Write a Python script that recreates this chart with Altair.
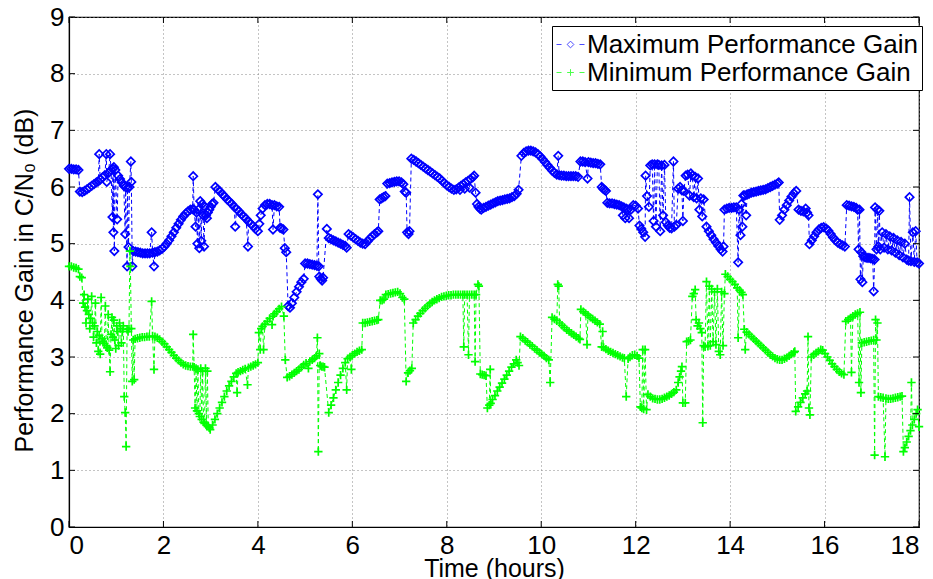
import altair as alt
import pandas as pd

# ---- data (time in hours, gain in dB) ----
max_points = [
(0.00,6.32),(0.05,6.32),(0.10,6.31),(0.15,6.31),(0.20,6.30),(0.23,5.92),(0.28,5.91),(0.33,5.93),(0.38,5.96),(0.43,5.99),
(0.48,6.02),(0.53,6.05),(0.58,6.08),(0.62,6.10),(0.64,6.58),(0.66,6.13),(0.71,6.17),(0.76,6.21),(0.79,6.58),(0.80,6.09),
(0.84,6.25),(0.87,6.58),(0.89,6.30),(0.92,5.47),(0.93,6.32),(0.94,5.20),(0.95,6.35),(0.96,4.87),(0.98,6.30),(1.02,5.43),
(1.04,6.20),(1.08,6.14),(1.12,6.08),(1.16,6.02),(1.19,5.17),(1.20,6.00),(1.23,4.60),(1.24,5.98),(1.26,4.94),(1.28,6.00),
(1.31,6.45),(1.32,6.09),(1.34,4.60),(1.36,4.87),(1.41,4.86),(1.46,4.85),(1.51,4.84),(1.56,4.83),(1.61,4.83),(1.66,4.83),
(1.71,4.83),(1.75,5.20),(1.77,4.84),(1.80,4.60),(1.82,4.85),(1.87,4.86),(1.92,4.88),(1.97,4.91),(2.02,4.95),(2.07,5.00),
(2.12,5.06),(2.17,5.13),(2.22,5.20),(2.27,5.28),(2.32,5.35),(2.37,5.42),(2.42,5.48),(2.47,5.53),(2.52,5.57),(2.57,5.60),
(2.62,5.61),(2.63,6.19),(2.65,5.60),(2.68,5.30),(2.70,5.55),(2.72,5.00),(2.74,5.60),(2.76,4.92),(2.78,5.75),(2.80,5.05),
(2.82,5.70),(2.84,5.50),(2.86,4.95),(2.88,5.65),(2.90,5.50),(2.92,5.45),(2.94,5.55),(2.97,5.60),(3.00,5.65),(3.03,5.70),
(3.06,5.72),(3.10,6.00),(3.15,5.96),(3.20,5.92),(3.25,5.87),(3.30,5.83),(3.35,5.78),(3.40,5.74),(3.45,5.70),(3.50,5.65),
(3.52,5.30),(3.55,5.61),(3.60,5.57),(3.65,5.52),(3.70,5.48),(3.75,5.44),(3.79,4.95),(3.80,5.39),(3.85,5.35),(3.90,5.31),
(3.95,5.26),(4.00,5.22),(4.03,5.35),(4.06,5.50),(4.10,5.62),(4.15,5.68),(4.20,5.70),(4.25,5.70),(4.30,5.68),(4.32,5.25),
(4.35,5.68),(4.40,5.66),(4.45,5.65),(4.47,5.28),(4.50,5.27),(4.54,5.25),(4.57,4.92),(4.60,4.85),(4.64,3.90),(4.68,3.87),
(4.72,3.95),(4.77,4.05),(4.82,4.15),(4.87,4.24),(4.92,4.32),(4.97,4.38),(5.00,4.65),(5.05,4.65),(5.10,4.64),(5.15,4.63),
(5.20,4.62),(5.25,4.61),(5.27,5.87),(5.29,4.60),(5.30,4.42),(5.33,4.38),(5.36,4.35),(5.38,4.40),(5.46,5.26),(5.50,5.10),
(5.55,5.08),(5.60,5.06),(5.65,5.04),(5.70,5.02),(5.75,5.00),(5.80,4.98),(5.85,4.96),(5.88,4.93),(5.92,5.17),(5.97,5.14),
(6.02,5.11),(6.07,5.08),(6.12,5.05),(6.17,5.02),(6.22,5.00),(6.27,4.99),(6.32,5.04),(6.37,5.09),(6.42,5.13),(6.47,5.17),
(6.52,5.20),(6.55,5.22),(6.58,5.78),(6.62,5.80),(6.66,5.82),(6.70,5.84),(6.74,6.06),(6.79,6.07),(6.84,6.08),(6.89,6.09),
(6.94,6.10),(6.99,6.10),(7.04,6.08),(7.08,6.05),(7.11,5.92),(7.14,5.90),(7.16,5.20),(7.19,5.17),(7.21,5.22),(7.25,6.50),
(7.30,6.48),(7.35,6.45),(7.40,6.42),(7.45,6.39),(7.50,6.36),(7.55,6.33),(7.60,6.30),(7.65,6.27),(7.70,6.24),(7.75,6.21),
(7.80,6.18),(7.85,6.15),(7.90,6.11),(7.95,6.07),(8.00,6.03),(8.05,6.00),(8.10,5.97),(8.15,5.95),(8.20,5.96),(8.25,5.99),
(8.28,5.95),(8.30,6.02),(8.35,6.05),(8.38,5.97),(8.40,6.08),(8.45,6.11),(8.48,5.99),(8.50,6.14),(8.55,6.17),(8.58,6.20),
(8.61,5.90),(8.64,5.70),(8.67,5.65),(8.70,5.62),(8.73,5.60),(8.78,5.63),(8.83,5.65),(8.88,5.67),(8.93,5.69),(8.98,5.71),
(9.03,5.73),(9.08,5.75),(9.13,5.76),(9.18,5.77),(9.23,5.78),(9.28,5.79),(9.33,5.80),(9.38,5.82),(9.43,5.84),(9.48,5.88),
(9.52,5.95),(9.58,6.55),(9.63,6.60),(9.68,6.63),(9.73,6.64),(9.78,6.64),(9.83,6.63),(9.88,6.61),(9.93,6.58),(9.98,6.54),
(10.03,6.49),(10.08,6.44),(10.13,6.39),(10.18,6.34),(10.23,6.29),(10.28,6.25),(10.33,6.22),(10.36,6.55),(10.38,6.21),(10.43,6.20),
(10.48,6.20),(10.53,6.19),(10.58,6.19),(10.63,6.19),(10.68,6.19),(10.73,6.19),(10.78,6.18),(10.83,6.45),(10.88,6.45),(10.93,6.44),
(10.98,6.15),(11.00,6.44),(11.05,6.43),(11.10,6.42),(11.15,6.42),(11.20,6.41),(11.25,6.40),(11.28,6.00),(11.31,5.97),(11.34,5.95),
(11.37,5.93),(11.40,5.72),(11.45,5.71),(11.50,5.71),(11.55,5.70),(11.60,5.69),(11.65,5.68),(11.70,5.66),(11.73,5.50),(11.75,5.64),
(11.78,5.45),(11.80,5.62),(11.83,5.60),(11.86,5.45),(11.90,5.60),(11.95,5.68),(12.00,5.67),(12.05,5.62),(12.08,5.32),(12.12,5.26),
(12.16,5.20),(12.20,5.12),(12.21,6.20),(12.24,5.84),(12.28,5.65),(12.31,6.38),(12.35,6.40),(12.38,5.40),(12.40,6.40),(12.43,5.30),
(12.46,6.40),(12.49,6.39),(12.52,5.22),(12.55,6.38),(12.58,5.50),(12.61,6.39),(12.64,5.38),(12.68,5.32),(12.72,5.28),(12.76,5.27),
(12.80,6.45),(12.82,5.30),(12.86,5.33),(12.90,5.97),(12.94,6.00),(12.98,5.94),(13.00,5.40),(13.02,5.93),(13.06,6.20),(13.10,6.22),
(13.14,5.85),(13.17,6.24),(13.20,6.20),(13.23,5.82),(13.26,6.18),(13.29,5.80),(13.32,6.15),(13.35,5.60),(13.38,5.80),(13.41,5.48),
(13.44,5.78),(13.50,5.30),(13.55,5.22),(13.60,5.15),(13.65,5.08),(13.70,5.02),(13.75,4.96),(13.80,4.90),(13.84,4.86),(13.86,4.95),
(13.88,5.60),(13.93,5.62),(13.98,5.63),(14.03,5.63),(14.08,5.64),(14.13,5.64),(14.17,4.67),(14.19,5.60),(14.22,5.15),(14.24,5.70),
(14.26,5.30),(14.28,5.85),(14.31,5.85),(14.34,5.50),(14.36,5.87),(14.40,5.88),(14.45,5.90),(14.50,5.91),(14.55,5.92),(14.60,5.93),
(14.65,5.94),(14.70,5.95),(14.75,5.96),(14.80,5.98),(14.85,6.00),(14.90,6.02),(14.95,6.04),(15.00,6.06),(15.03,6.08),(15.05,5.42),
(15.10,5.50),(15.15,5.60),(15.20,5.68),(15.25,5.76),(15.30,5.83),(15.35,5.89),(15.40,5.93),(15.45,5.60),(15.50,5.58),(15.55,5.57),
(15.60,5.62),(15.63,5.55),(15.66,5.50),(15.68,4.99),(15.73,5.06),(15.78,5.13),(15.83,5.20),(15.88,5.25),(15.93,5.28),(15.98,5.29),
(16.03,5.27),(16.08,5.23),(16.13,5.17),(16.18,5.11),(16.23,5.06),(16.28,5.02),(16.33,4.99),(16.38,4.97),(16.43,4.95),(16.47,5.68),
(16.52,5.67),(16.57,5.66),(16.62,5.65),(16.67,5.63),(16.70,5.60),(16.72,4.90),(16.74,5.60),(16.76,4.37),(16.78,4.85),(16.80,4.32),
(16.82,4.78),(16.86,4.76),(16.90,4.75),(16.94,4.75),(16.98,4.74),(17.02,4.73),(17.04,4.16),(17.06,4.72),(17.07,5.64),(17.10,4.90),
(17.12,5.60),(17.14,4.95),(17.16,5.58),(17.18,4.90),(17.22,5.20),(17.26,4.93),(17.30,5.17),(17.34,4.90),(17.38,5.13),(17.42,4.88),
(17.46,5.10),(17.50,4.84),(17.54,5.06),(17.58,4.80),(17.62,5.03),(17.66,4.76),(17.70,5.00),(17.74,4.72),(17.78,4.70),(17.80,5.82),
(17.83,4.69),(17.87,5.20),(17.90,4.68),(17.93,5.22),(17.96,4.67),(18.00,4.65),
]

min_points = [
(0.00,4.60),(0.05,4.60),(0.10,4.58),(0.15,4.57),(0.20,4.55),(0.23,4.42),(0.27,4.40),(0.30,3.95),(0.32,4.10),(0.34,3.88),
(0.36,3.60),(0.38,3.82),(0.40,4.02),(0.42,3.75),(0.44,3.50),(0.46,3.68),(0.48,4.07),(0.50,3.60),(0.52,3.35),(0.54,3.55),
(0.56,3.95),(0.58,3.25),(0.60,3.45),(0.62,3.10),(0.64,3.38),(0.66,3.05),(0.68,4.05),(0.70,3.32),(0.72,3.28),(0.75,3.24),
(0.77,3.90),(0.79,3.20),(0.81,3.16),(0.83,3.75),(0.85,3.12),(0.87,2.74),(0.89,3.40),(0.91,3.70),(0.93,3.35),(0.95,3.65),
(0.97,3.30),(0.99,3.15),(1.01,3.55),(1.03,3.45),(1.05,3.20),(1.07,3.60),(1.09,3.50),(1.11,3.25),(1.13,3.45),(1.15,3.55),
(1.17,2.30),(1.19,2.02),(1.21,1.42),(1.23,3.49),(1.25,3.45),(1.27,3.50),(1.29,4.87),(1.30,4.60),(1.32,3.50),(1.34,2.57),
(1.36,3.30),(1.38,2.60),(1.40,3.32),(1.45,3.33),(1.50,3.34),(1.55,3.35),(1.60,3.35),(1.65,3.36),(1.70,3.36),(1.75,3.98),
(1.77,3.37),(1.80,2.78),(1.82,3.36),(1.87,3.34),(1.92,3.31),(1.97,3.27),(2.02,3.23),(2.07,3.18),(2.12,3.13),(2.17,3.08),
(2.22,3.03),(2.27,2.98),(2.32,2.94),(2.37,2.90),(2.42,2.87),(2.47,2.85),(2.52,2.84),(2.57,2.83),(2.62,2.83),(2.63,3.40),
(2.65,2.82),(2.67,2.10),(2.69,2.80),(2.71,2.05),(2.73,2.78),(2.75,2.00),(2.77,1.95),(2.79,2.80),(2.81,1.90),(2.83,2.75),
(2.85,1.85),(2.87,1.83),(2.89,2.80),(2.91,1.80),(2.93,2.75),(2.95,1.78),(2.97,1.75),(2.99,1.72),(3.04,1.80),(3.09,1.90),
(3.14,2.00),(3.19,2.10),(3.24,2.20),(3.29,2.30),(3.34,2.40),(3.39,2.49),(3.44,2.57),(3.49,2.65),(3.54,2.71),(3.56,2.37),
(3.58,2.73),(3.63,2.75),(3.68,2.77),(3.73,2.79),(3.78,2.51),(3.80,2.81),(3.85,2.83),(3.90,2.85),(3.95,2.87),(4.00,2.90),
(4.02,3.43),(4.05,3.13),(4.07,3.50),(4.10,3.54),(4.12,3.13),(4.15,3.58),(4.20,3.63),(4.25,3.68),(4.30,3.57),(4.32,3.72),
(4.35,3.76),(4.40,3.80),(4.45,3.85),(4.50,3.89),(4.55,3.72),(4.58,2.95),(4.62,2.64),(4.67,2.66),(4.72,2.69),(4.77,2.72),
(4.82,2.75),(4.87,2.78),(4.92,2.82),(4.97,2.86),(5.02,2.89),(5.07,2.80),(5.10,2.92),(5.15,2.95),(5.20,2.98),(5.24,3.02),
(5.26,3.34),(5.28,1.33),(5.30,3.06),(5.32,2.85),(5.35,2.83),(5.38,2.83),(5.41,2.82),(5.50,2.02),(5.55,2.15),(5.60,2.28),
(5.65,2.42),(5.70,2.55),(5.75,2.68),(5.80,2.80),(5.85,2.90),(5.88,2.42),(5.90,2.97),(5.95,3.00),(5.98,2.78),(6.00,3.03),
(6.05,3.06),(6.10,3.09),(6.15,3.11),(6.20,3.13),(6.22,3.60),(6.27,3.60),(6.32,3.61),(6.37,3.62),(6.42,3.63),(6.47,3.64),
(6.52,3.65),(6.55,3.66),(6.59,4.00),(6.63,4.00),(6.67,4.02),(6.71,4.10),(6.76,4.11),(6.81,4.12),(6.86,4.13),(6.91,4.14),
(6.96,4.15),(7.01,4.12),(7.06,4.05),(7.10,4.02),(7.14,2.57),(7.18,2.72),(7.22,2.76),(7.26,2.80),(7.29,3.60),(7.34,3.66),
(7.39,3.72),(7.44,3.77),(7.49,3.82),(7.54,3.86),(7.59,3.90),(7.64,3.94),(7.69,3.97),(7.74,4.00),(7.79,4.02),(7.84,4.04),
(7.89,4.06),(7.94,4.07),(7.99,4.08),(8.04,4.09),(8.09,4.09),(8.14,4.10),(8.19,4.10),(8.24,4.10),(8.29,4.10),(8.34,4.10),
(8.36,3.18),(8.38,4.10),(8.43,4.10),(8.46,3.04),(8.48,4.10),(8.53,4.10),(8.58,4.10),(8.60,2.92),(8.62,4.10),(8.66,4.28),
(8.68,4.25),(8.71,2.70),(8.75,2.69),(8.79,2.68),(8.83,2.67),(8.86,2.10),(8.90,2.15),(8.92,2.78),(8.93,2.18),(8.97,2.25),
(9.02,2.32),(9.07,2.40),(9.12,2.47),(9.17,2.54),(9.22,2.61),(9.27,2.68),(9.32,2.75),(9.37,2.82),(9.42,2.88),(9.47,2.95),
(9.50,2.90),(9.53,2.85),(9.56,3.36),(9.61,3.33),(9.66,3.29),(9.71,3.26),(9.76,3.22),(9.81,3.19),(9.86,3.15),(9.91,3.12),
(9.96,3.08),(10.01,3.05),(10.06,3.02),(10.11,2.98),(10.16,2.95),(10.19,2.55),(10.23,3.70),(10.28,3.67),(10.33,3.64),(10.35,4.28),
(10.37,4.25),(10.39,3.60),(10.44,3.56),(10.49,3.52),(10.54,3.48),(10.59,3.45),(10.64,3.42),(10.69,3.39),(10.74,3.36),(10.79,3.33),
(10.82,3.31),(10.84,3.84),(10.89,3.80),(10.94,3.77),(10.97,3.22),(10.99,3.74),(11.04,3.70),(11.09,3.67),(11.14,3.64),(11.19,3.61),
(11.24,3.58),(11.28,3.18),(11.30,3.45),(11.32,3.17),(11.37,3.14),(11.42,3.11),(11.47,3.09),(11.52,3.07),(11.57,3.05),(11.62,3.03),
(11.67,3.01),(11.72,2.99),(11.76,2.98),(11.80,2.30),(11.84,2.97),(11.88,3.00),(11.93,3.03),(11.98,3.04),(12.03,3.02),(12.07,2.98),
(12.10,2.12),(12.13,2.10),(12.15,3.13),(12.17,2.08),(12.20,3.13),(12.23,2.07),(12.26,2.34),(12.31,2.30),(12.36,2.27),(12.41,2.26),
(12.46,2.25),(12.51,2.25),(12.56,2.26),(12.61,2.28),(12.66,2.30),(12.71,2.32),(12.76,2.35),(12.81,2.38),(12.86,2.42),(12.90,2.55),
(12.93,2.65),(12.96,2.75),(12.98,2.83),(13.00,2.19),(13.05,2.19),(13.08,3.27),(13.12,3.28),(13.16,3.30),(13.20,4.07),(13.23,4.12),
(13.26,4.19),(13.28,3.66),(13.31,3.55),(13.34,3.60),(13.37,3.50),(13.40,3.43),(13.42,1.84),(13.44,3.20),(13.47,3.18),(13.50,4.33),
(13.53,3.19),(13.56,4.25),(13.58,3.20),(13.61,4.20),(13.64,3.27),(13.67,4.15),(13.70,3.22),(13.73,4.20),(13.76,3.10),(13.79,3.04),
(13.82,4.15),(13.85,3.20),(13.88,4.12),(13.90,4.46),(13.95,4.42),(14.00,4.37),(14.05,4.33),(14.10,4.28),(14.15,4.22),(14.17,3.34),
(14.20,4.18),(14.24,4.14),(14.27,4.10),(14.30,3.49),(14.32,3.13),(14.35,3.44),(14.40,3.40),(14.45,3.36),(14.50,3.32),(14.55,3.28),
(14.60,3.24),(14.65,3.20),(14.70,3.16),(14.75,3.12),(14.80,3.08),(14.85,3.04),(14.90,3.01),(14.95,2.98),(15.00,2.96),(15.05,2.95),
(15.10,2.95),(15.15,2.97),(15.20,2.99),(15.25,3.02),(15.30,3.05),(15.35,3.08),(15.37,3.10),(15.39,2.04),(15.44,2.12),(15.49,2.20),
(15.54,2.28),(15.59,2.35),(15.63,2.40),(15.65,3.36),(15.67,2.10),(15.69,1.98),(15.72,3.00),(15.77,3.04),(15.82,3.07),(15.87,3.10),
(15.92,3.13),(15.96,3.12),(16.01,3.06),(16.06,3.00),(16.11,2.94),(16.16,2.88),(16.21,2.83),(16.26,2.78),(16.31,2.74),(16.36,2.71),
(16.41,2.69),(16.45,3.63),(16.50,3.66),(16.55,3.69),(16.57,2.73),(16.60,3.72),(16.65,3.75),(16.70,3.77),(16.73,2.55),(16.75,3.79),
(16.77,2.37),(16.79,3.25),(16.84,3.26),(16.89,3.27),(16.94,3.28),(16.99,3.29),(17.04,3.30),(17.06,1.27),(17.08,3.66),(17.10,3.30),
(17.12,3.60),(17.14,2.30),(17.19,2.29),(17.24,2.28),(17.28,1.24),(17.30,2.27),(17.35,2.26),(17.40,2.26),(17.45,2.27),(17.50,2.28),
(17.55,2.29),(17.60,2.30),(17.64,2.31),(17.67,1.33),(17.70,1.40),(17.74,1.50),(17.78,1.60),(17.82,1.70),(17.84,2.55),(17.86,1.80),
(17.90,1.90),(17.94,2.00),(17.97,2.07),(18.00,1.77),
]

series_names = ["Maximum Performance Gain", "Minimum Performance Gain"]
series_colors = ["#0000FF", "#00FF00"]
x_ticks = [0, 2, 4, 6, 8, 10, 12, 14, 16, 18]
y_ticks = [0, 1, 2, 3, 4, 5, 6, 7, 8, 9]

rows = []
for name, pts in zip(series_names, [max_points, min_points]):
    for i, (t, v) in enumerate(pts):
        rows.append({"t": t, "v": v, "series": name, "i": i})
df = pd.DataFrame(rows)

W, H = 850, 510
FONT = "Liberation Sans"

xs = alt.Scale(domain=[0, 18], nice=False, zero=False)
ys = alt.Scale(domain=[0, 9], nice=False, zero=False)
xaxis = alt.Axis(values=x_ticks, title="Time (hours)", format="d", grid=True)
yaxis = alt.Axis(values=y_ticks, title="Performance Gain in C/N\u2080 (dB)", format="d", grid=True,
                 titleX=-32, titleY=263, titleBaseline="bottom", titleFontSize=25)

# legend symbols: dash - marker - dash
diamond_leg = "M-1,0L-0.64,0M0.64,0L1,0M0,-0.24L0.24,0L0,0.24L-0.24,0Z"
plus_leg = "M-1,0L-0.64,0M0.64,0L1,0M-0.24,0L0.24,0M0,-0.24L0,0.24"
plus_path = "M-1,0L1,0M0,-1L0,1"

legend = alt.Legend(
    title=None, orient="none", legendX=483, legendY=9,
    fillColor="white", strokeColor="black", padding=4,
    labelFont=FONT, labelFontSize=26, labelColor="black", labelLimit=600,
    labelOffset=2, rowPadding=0, symbolSize=784, symbolStrokeWidth=1,
    symbolFillColor="transparent",
)

base = alt.Chart(df)

lines = base.mark_line(strokeDash=[4, 3], strokeWidth=1).encode(
    x=alt.X("t:Q", scale=xs, axis=xaxis),
    y=alt.Y("v:Q", scale=ys, axis=yaxis),
    stroke=alt.Stroke("series:N", scale=alt.Scale(domain=series_names, range=series_colors), legend=None),
    detail="series:N",
    order=alt.Order("i:Q"),
)

points = base.mark_point(filled=False, strokeWidth=1.7, size=70, opacity=1).encode(
    x=alt.X("t:Q", scale=xs, axis=xaxis),
    y=alt.Y("v:Q", scale=ys, axis=yaxis),
    color=alt.Color("series:N", scale=alt.Scale(domain=series_names, range=series_colors), legend=None),
    shape=alt.Shape("series:N", scale=alt.Scale(domain=series_names, range=["diamond", plus_path]), legend=None),
)

legend_df = pd.DataFrame({"series": series_names})
legend_layer = alt.Chart(legend_df).mark_point(filled=False, strokeWidth=1).encode(
    x=alt.value(-400), y=alt.value(-400),
    color=alt.Color("series:N", scale=alt.Scale(domain=series_names, range=series_colors), legend=legend),
    shape=alt.Shape("series:N", scale=alt.Scale(domain=series_names, range=[diamond_leg, plus_leg]), legend=legend),
)

xt = pd.DataFrame({"t": x_ticks})
yt = pd.DataFrame({"v": y_ticks})
tick_x = alt.X("t:Q", scale=xs, axis=xaxis)
tick_y = alt.Y("v:Q", scale=ys, axis=yaxis)
ticks = [
    alt.Chart(yt).mark_rule(color="black").encode(y=tick_y, x=alt.value(0), x2=alt.value(6)),
    alt.Chart(yt).mark_rule(color="black").encode(y=tick_y, x=alt.value(W - 6), x2=alt.value(W)),
    alt.Chart(xt).mark_rule(color="black").encode(x=tick_x, y=alt.value(H - 6), y2=alt.value(H)),
    alt.Chart(xt).mark_rule(color="black").encode(x=tick_x, y=alt.value(0), y2=alt.value(6)),
]

chart = alt.layer(lines, points, *ticks, legend_layer).resolve_scale(
    color="independent", shape="independent"
).properties(
    width=W, height=H,
    autosize=alt.AutoSizeParams(type="none"),
    padding={"left": 61, "top": 9, "right": 6, "bottom": 56},
).configure_view(
    stroke="black", strokeWidth=1.2,
).configure_axis(
    labelFont=FONT, labelFontSize=26, labelColor="black",
    titleFont=FONT, titleFontSize=25, titleFontWeight="normal", titleColor="black",
    domainColor="black", domainWidth=1.2, ticks=False, tickSize=0,
    gridColor="#888888", gridDash=[1, 3], gridWidth=1, gridOpacity=1,
).configure_axisX(
    labelPadding=5, titlePadding=-2,
).configure_axisY(
    labelPadding=5,
)

chart.save("out.html", embed_options={"renderer": "svg", "actions": False})
